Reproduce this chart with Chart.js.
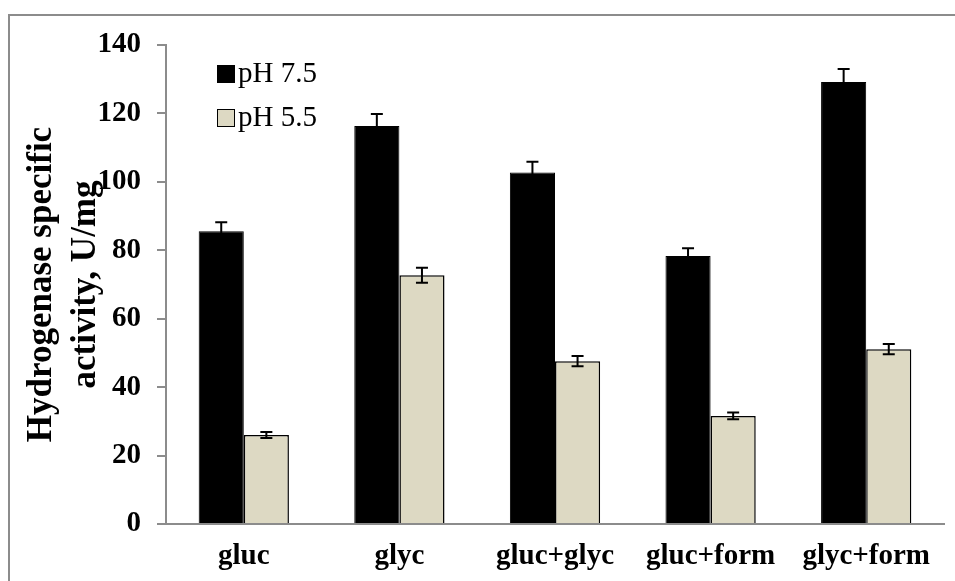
<!DOCTYPE html>
<html>
<head>
<meta charset="utf-8">
<script src="https://cdn.jsdelivr.net/npm/chart.js@4.4.1/dist/chart.umd.min.js"></script>
<style>
    html, body { margin: 0; padding: 0; background: #fff; }
    #wrap { position: relative; width: 955px; height: 581px; overflow: hidden; }
    #frame { position: absolute; left: 8px; top: 14px; width: 1000px; height: 700px; border: 2px solid #8c8c8c; box-sizing: border-box; }
    #chart { position: absolute; left: 0; top: 0; }
    .legend { position: absolute; left: 217px; font-family: "Liberation Serif", "Times New Roman", serif; font-size: 29px; color: #000; line-height: 1; }
    .legend span.box { display: inline-block; width: 18px; height: 18px; box-sizing: border-box; border: 1.5px solid #000; margin-right: 3px; vertical-align: -1px; }
</style>
</head>
<body>
<div id="wrap">
    <div id="frame"></div>
    <canvas id="chart" width="955" height="581"></canvas>
    <div class="legend" style="top: 58px;"><span class="box" style="background:#000"></span>pH 7.5</div>
    <div class="legend" style="top: 102px;"><span class="box" style="background:#ddd9c3"></span>pH 5.5</div>
</div>
<script>
const categories = ['gluc', 'glyc', 'gluc+glyc', 'gluc+form', 'glyc+form'];
const ph75 = [85.6, 116.3, 102.7, 78.3, 129.2];
const ph75Err = [2.6, 3.5, 3.2, 2.3, 3.8];
const ph55 = [26.0, 72.7, 47.6, 31.6, 51.1];
const ph55Err = [0.9, 2.2, 1.5, 1.0, 1.5];
const yTicks = { min: 0, max: 140, step: 20 };

const serif = '"Liberation Serif", "Times New Roman", serif';

// draws the error whiskers on top of the bars
const errorBars = {
    id: 'errorBars',
    afterDatasetsDraw(chart) {
        const ctx = chart.ctx;
        const y = chart.scales.y;
        chart.data.datasets.forEach((ds, di) => {
            const meta = chart.getDatasetMeta(di);
            meta.data.forEach((bar, i) => {
                const v = ds.data[i];
                const e = ds.errors[i];
                const top = y.getPixelForValue(v + e);
                const bot = y.getPixelForValue(v - e);
                ctx.save();
                ctx.strokeStyle = '#000';
                ctx.lineWidth = 2;
                ctx.beginPath();
                ctx.moveTo(bar.x, top);
                ctx.lineTo(bar.x, bot);
                ctx.moveTo(bar.x - 6, top);
                ctx.lineTo(bar.x + 6, top);
                ctx.moveTo(bar.x - 6, bot);
                ctx.lineTo(bar.x + 6, bot);
                ctx.stroke();
                ctx.restore();
            });
        });
    }
};

new Chart(document.getElementById('chart').getContext('2d'), {
    type: 'bar',
    data: {
        labels: categories,
        datasets: [{
            label: 'pH 7.5',
            data: ph75,
            errors: ph75Err,
            backgroundColor: '#000000',
            borderColor: '#000000',
            borderWidth: 1
        }, {
            label: 'pH 5.5',
            data: ph55,
            errors: ph55Err,
            backgroundColor: '#ddd9c3',
            borderColor: '#000000',
            borderWidth: 1.5
        }]
    },
    options: {
        responsive: false,
        animation: false,
        categoryPercentage: 0.58,
        barPercentage: 1,
        layout: { padding: { top: 45, right: 11, bottom: 0, left: 0 } },
        plugins: {
            legend: { display: false },
            tooltip: { enabled: false }
        },
        scales: {
            x: {
                grid: { display: false, drawTicks: false },
                border: { color: '#8c8c8c', width: 2 },
                ticks: { color: '#000', font: { family: serif, size: 29, weight: 'bold' }, padding: 15 },
                afterFit(scale) { scale.height = 57; }
            },
            y: {
                min: yTicks.min,
                max: yTicks.max,
                ticks: { stepSize: yTicks.step, color: '#000', font: { family: serif, size: 29, weight: 'bold' }, padding: 16 },
                grid: { drawOnChartArea: false, drawTicks: true, tickLength: 9, color: '#8c8c8c', lineWidth: 2 },
                border: { color: '#8c8c8c', width: 2 },
                title: {
                    display: true,
                    text: ['Hydrogenase specific', 'activity, U/mg'],
                    color: '#000',
                    font: { family: serif, size: 35, weight: 'bold', lineHeight: 1.26 },
                    padding: { top: 20, bottom: 0 }
                },
                afterFit(scale) { scale.width = 166; }
            }
        }
    },
    plugins: [errorBars]
});
</script>
</body>
</html>
